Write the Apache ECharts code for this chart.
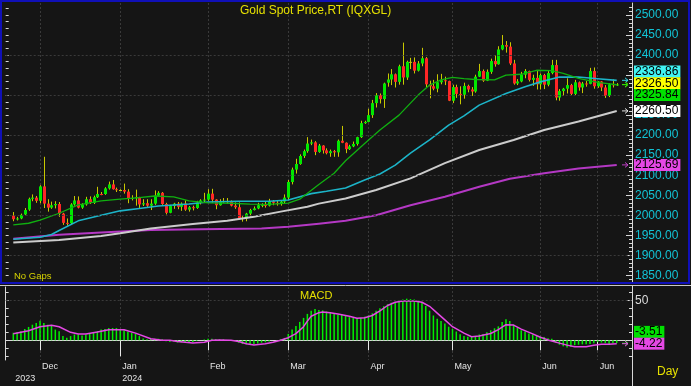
<!DOCTYPE html>
<html><head><meta charset="utf-8">
<script src="https://cdn.jsdelivr.net/npm/echarts@6/dist/echarts.min.js"></script>
<style>html,body{margin:0;padding:0;background:#151515}#c{width:691px;height:386px}</style>
</head><body><div id="c"></div>
<script>
// ---------------- DATA ----------------
const opens = [1999,1990,1992,2002,2014,2041,2044,2036,2072,2029,2019,2025,2028,2004,1981,1980,2027,2037,2019,2027,2040,2031,2045,2053,2053,2067,2077,2065,2063,2063,2059,2042,2043,2045,2027,2030,2024,2029,2049,2056,2028,2006,2023,2029,2021,2029,2014,2020,2018,2032,2037,2039,2054,2039,2025,2035,2035,2034,2024,2020,1993,1992,2004,2013,2017,2025,2026,2024,2035,2031,2029,2034,2044,2083,2114,2128,2148,2160,2179,2182,2158,2174,2162,2155,2160,2157,2186,2181,2165,2172,2178,2195,2230,2233,2250,2280,2300,2290,2331,2339,2352,2333,2372,2344,2383,2383,2361,2379,2392,2327,2322,2316,2332,2337,2335,2286,2320,2303,2301,2323,2314,2309,2346,2360,2336,2358,2385,2377,2414,2425,2421,2379,2329,2334,2351,2360,2338,2343,2327,2350,2326,2355,2375,2294,2310,2316,2325,2303,2332,2319,2329,2328,2360,2322,2334,2319,2298,2327,2326];
const highs = [2008,1996,2004,2018,2044,2052,2048,2075,2146,2040,2034,2035,2033,2006,1992,2030,2048,2047,2030,2046,2047,2049,2071,2058,2070,2084,2088,2069,2065,2079,2065,2050,2064,2046,2040,2040,2040,2062,2060,2058,2031,2026,2031,2033,2032,2037,2023,2024,2036,2040,2056,2065,2066,2040,2040,2043,2043,2037,2032,2032,1998,2006,2016,2022,2031,2030,2035,2041,2038,2038,2038,2052,2088,2119,2141,2152,2164,2195,2189,2185,2178,2175,2167,2164,2163,2189,2223,2182,2176,2184,2196,2236,2236,2266,2288,2305,2304,2331,2354,2365,2354,2376,2431,2386,2393,2394,2385,2418,2395,2336,2338,2352,2353,2346,2336,2326,2326,2322,2331,2326,2320,2351,2378,2364,2364,2391,2400,2422,2450,2435,2432,2388,2340,2358,2365,2361,2351,2362,2354,2353,2360,2388,2388,2315,2318,2342,2328,2338,2334,2333,2335,2368,2369,2335,2335,2325,2330,2339,2330];
const lows = [1985,1987,1990,2000,2011,2035,2031,2030,2018,2009,2016,2017,1996,1976,1974,1976,2024,2017,2016,2024,2028,2028,2043,2050,2051,2064,2064,2058,2061,2054,2030,2037,2024,2017,2023,2021,2013,2026,2046,2026,2002,2005,2016,2015,2011,2011,2009,2012,2016,2027,2031,2036,2031,2015,2024,2031,2028,2022,2016,1990,1984,1985,1996,2012,2015,2020,2019,2022,2025,2024,2024,2030,2039,2077,2104,2126,2143,2156,2175,2150,2156,2154,2152,2146,2146,2146,2180,2155,2163,2170,2174,2193,2228,2232,2243,2269,2279,2268,2321,2325,2319,2326,2326,2338,2365,2354,2359,2372,2320,2292,2312,2307,2327,2325,2285,2280,2293,2277,2291,2307,2298,2306,2345,2333,2335,2353,2371,2376,2412,2406,2375,2326,2325,2332,2342,2334,2323,2314,2314,2315,2322,2352,2287,2286,2298,2304,2300,2300,2311,2305,2321,2327,2316,2318,2310,2293,2295,2319,2323];
const closes = [1990,1992,2001,2013,2041,2044,2036,2072,2029,2019,2025,2028,2004,1981,1980,2027,2037,2019,2027,2040,2031,2045,2053,2052,2067,2077,2065,2063,2063,2059,2042,2043,2045,2027,2030,2024,2029,2049,2056,2028,2006,2023,2029,2021,2029,2014,2020,2018,2032,2037,2039,2054,2039,2025,2035,2035,2034,2024,2020,1993,1992,2004,2013,2017,2025,2026,2024,2035,2031,2029,2034,2044,2083,2114,2128,2148,2160,2179,2182,2158,2174,2162,2155,2160,2157,2186,2181,2165,2172,2178,2195,2230,2233,2250,2280,2300,2290,2329,2339,2352,2333,2372,2344,2383,2383,2361,2379,2392,2327,2322,2316,2332,2337,2335,2286,2320,2303,2301,2323,2314,2309,2346,2360,2336,2358,2385,2377,2414,2425,2421,2379,2329,2334,2351,2360,2338,2343,2327,2350,2326,2355,2375,2294,2310,2316,2325,2303,2332,2319,2329,2328,2360,2322,2334,2319,2298,2327,2326,2326.5];

// moving averages: [trading-day index, value]
const ma20 = [[0,1976],[4,1980],[7,1988],[12,2005],[17,2026],[23,2036],[28,2040],[33,2044],[37,2048],[42,2046],[46,2036],[51,2031],[57,2030],[62,2028],[67,2027],[72,2030],[75,2040],[80,2077],[84,2105],[87,2136],[92,2179],[96,2213],[101,2250],[106,2300],[109,2325],[112,2338],[115,2344],[118,2341],[121,2339],[126,2338],[129,2350],[133,2352],[137,2362],[141,2361],[144,2354],[148,2342],[153,2332],[158,2325.84]];
const ma50 = [[0,1940],[7,1945],[10,1952],[12,1962],[17,1986],[23,2000],[28,2011],[33,2017],[38,2023],[46,2028],[51,2033],[59,2035],[67,2035],[72,2038],[78,2054],[82,2060],[87,2068],[92,2088],[96,2103],[100,2125],[104,2155],[109,2188],[114,2225],[118,2248],[122,2275],[129,2304],[134,2321],[138,2333],[143,2345],[148,2345],[153,2341],[158,2336.86]];
const ma100 = [[0,1932],[12,1938],[23,1948],[28,1955],[36,1967],[47,1978],[56,1986],[63,1996],[70,2009],[77,2021],[80,2029],[87,2042],[95,2063],[104,2092],[113,2130],[122,2163],[131,2188],[139,2213],[148,2234],[158,2260.5]];
const ma200 = [[0,1941],[12,1951],[23,1957],[36,1963],[49,1965],[65,1967],[72,1971],[80,1979],[87,1986],[95,2000],[104,2025],[113,2046],[122,2071],[130,2091],[139,2105],[148,2117],[158,2125.69]];

const macdValues = [9.4,10.1,11.4,14.2,16.7,19.5,21.5,24.4,21.5,19.5,
18.3,13.4,11.4,5.3,3.3,5.3,7.3,7.3,6.1,7.3,
8.5,9.3,11.4,13.4,14.2,15.4,15.4,15.4,14.2,12.6,
10.6,9.3,8.1,5.3,2.4,1.2,2,2,2,1.2,
-1.2,-2,-1.5,-2.8,-2.5,-2.8,-2.5,-2,-1,0,
1,2,2,1.5,1.2,1.2,0.5,0,-0.5,-3,
-4.5,-5,-5,-4.9,-4,-3,-2.5,-1.5,0,0.5,
1.5,3,8,13.5,18,23,28,33,37,39,
38,37.5,36,34,33,32,32.5,31,29,28,
27.6,28,29.5,31,33.7,37,40,42.5,45,47,
48,50,51,52,51.5,51,49.5,48,43,37,
31,27,24,21,17,14.2,11,7.5,5.5,4.5,
4.5,5.5,7.3,8,10,12.5,15,17.4,23,26.4,
24,19.5,16,12.5,11,8.5,7.3,6,4.5,4,
2.5,2,-3,-5.5,-7.5,-9,-8,-6.1,-5.5,-5,
-4.9,-4.5,-3.7,-2,-2.8,-3.5,-4.5,-3.5,-3.51];
const signalLine = [[0,8.3],[4,12],[7,17],[10,18.7],[12,17],[15,10],[17,8],[19,8],[22,10.5],[25,13.3],[29,13.3],[32,9],[36,2],[39,0],[41,0],[43,-1.5],[45,-2.5],[47,-3.3],[50,-2.5],[52,0],[54,0.5],[57,0],[59,-1.5],[61,-4.2],[63,-5.8],[66,-4.2],[68,-2.5],[70,0],[72,3.3],[74,8.3],[76,17],[77,24],[78,30],[80,34.5],[81,35.4],[83,34.5],[85,32.8],[88,30],[90,27.6],[92,28.3],[94,31],[96,36.7],[98,43.5],[100,47.5],[102,49],[105,49],[107,47.5],[109,42.5],[111,34],[113,25.5],[115,17],[118,9],[120,4.5],[122,5.5],[125,8.5],[127,13.3],[129,19.5],[131,19],[133,14],[136,8],[138,3.8],[140,0.5],[143,-3.5],[145,-6],[147,-8],[150,-8],[152,-6.2],[154,-5],[156,-4.8],[158,-4.22]];

const monthDays = [7,28,51,72,93,115,138,153];
const monthNames = ['Dec','Jan','Feb','Mar','Apr','May','Jun','Jun'];
const yearDays = [0,28];
const yearNames = ['2023','2024'];
const priceTicks = [1850,1900,1950,2000,2050,2100,2150,2200,2250,2300,2350,2400,2450,2500];
const priceGridLevels = [1900,2000,2100,2200,2300,2400];
const macdTicks = [50];
const priceTagValues = [2336.86, 2326.50, 2325.84, 2260.50, 2125.69];
const macdTagValues = [-3.51, -4.22];

// ---------------- STYLE ----------------
const FONT = 'Arial, "Liberation Sans", sans-serif';
const UP = '#00e800', DOWN = '#ff2626', WICK = '#c8c800';
const GRIDC = '#3a3a3a';
const AXISC = '#d8d8d8';
const priceTagColors = ['#40f4f4','#ffff00','#00e000','#ffffff','#e448e4'];
const priceArrowColors = ['#30d8e8','#e8e800','#00d800','#e0e0e0','#c040c8'];
const macdTagColors = ['#00e000','#e448e4'];
const macdArrowColors = ['#00d800','#e050e0'];

const PAD_L = 2, PAD_R = 4;
const nDays = closes.length;
const cats = [];
for (let k = 0; k < PAD_L; k++) cats.push('L' + k);
const dt = new Date(Date.UTC(2023, 10, 22));
while (cats.length < PAD_L + nDays) {
  const wd = dt.getUTCDay();
  if (wd !== 0 && wd !== 6) cats.push(dt.toISOString().slice(0, 10));
  dt.setUTCDate(dt.getUTCDate() + 1);
}
for (let k = 0; k < PAD_R; k++) cats.push('R' + k);

const monthIdx = new Map(monthDays.map((d, k) => [d + PAD_L, monthNames[k]]));
const yearIdx = new Map(yearDays.map((d, k) => [d + PAD_L, yearNames[k]]));
const janIdx = yearDays[1] + PAD_L;

const candleData = closes.map((c, i) => [i + PAD_L, opens[i], c, lows[i], highs[i]]);
const toCat = arr => arr.map(p => [p[0] + PAD_L, p[1]]);
const macdBars = cats.map((_, k) => (k >= PAD_L && k < PAD_L + nDays) ? macdValues[k - PAD_L] : '-');

// ruler ticks (styling only)
const rightRuler = []; for (let v = 1840; v <= 2530; v += 10) rightRuler.push(v);
const leftRuler = []; for (let v = 2500 + 50 / 3; v >= 1835; v -= 50 / 3) leftRuler.push(v);
const macdRuler = []; for (let v = -20; v <= 60; v += 10) macdRuler.push(v);

function renderCandle(params, api) {
  const x = api.value(0);
  const o = api.value(1), c = api.value(2), l = api.value(3), h = api.value(4);
  const po = api.coord([x, o]), pc = api.coord([x, c]), pl = api.coord([x, l]), ph = api.coord([x, h]);
  const cx = Math.round(po[0]);
  const top = Math.min(po[1], pc[1]), bot = Math.max(po[1], pc[1]);
  const fill = c > o ? UP : (c < o ? DOWN : WICK);
  return { type: 'group', children: [
    { type: 'line', shape: { x1: cx + 0.5, y1: ph[1], x2: cx + 0.5, y2: pl[1] }, style: { stroke: WICK, lineWidth: 1 } },
    { type: 'rect', shape: { x: cx - 1, y: top, width: 3, height: Math.max(bot - top, 1) }, style: { fill: fill } }
  ]};
}

function tagRenderer(values, colors, arrowColors, anchor) {
  return function (params, api) {
    const cs = params.coordSys;
    const right = cs.x + cs.width;
    const H = 11.8;
    const items = values.map((v, k) => ({ v, k, y: api.coord([0, v])[1] }));
    items.sort((a, b) => a.y - b.y);
    let groups = items.map(it => ({ members: [it] }));
    const place = g => {
      const n = g.members.length;
      let c0;
      if (anchor === 'bottom') c0 = g.members[n - 1].y - (n - 1) * H;
      else c0 = g.members.reduce((s, m) => s + m.y, 0) / n - (n - 1) * H / 2;
      g.members.forEach((m, j) => m.cy = c0 + j * H);
    };
    groups.forEach(place);
    let merged = true;
    while (merged) {
      merged = false;
      for (let g = 0; g < groups.length - 1; g++) {
        const a = groups[g], b = groups[g + 1];
        if (a.members[a.members.length - 1].cy + H > b.members[0].cy) {
          a.members = a.members.concat(b.members);
          groups.splice(g + 1, 1);
          place(a);
          merged = true;
          break;
        }
      }
    }
    const children = [];
    items.forEach(it => {
      const ac = arrowColors[it.k];
      children.push({ type: 'polyline', shape: { points: [[right - 10, it.y], [right - 4, it.y]] }, style: { stroke: ac, lineWidth: 1, fill: null } });
      children.push({ type: 'polyline', shape: { points: [[right - 7, it.y - 2.5], [right - 4, it.y], [right - 7, it.y + 2.5]] }, style: { stroke: ac, lineWidth: 1, fill: null } });
    });
    items.forEach(it => {
      children.push({ type: 'text', x: right + 2, y: it.cy, style: {
        text: it.v.toFixed(2), fill: '#000', font: '12px ' + FONT, verticalAlign: 'middle', align: 'left',
        backgroundColor: colors[it.k], padding: [1, 2, 0, 1], lineHeight: 11 } });
    });
    return { type: 'group', children };
  };
}

const chart = echarts.init(document.getElementById('c'), null, { renderer: 'canvas' });
const splitFn = (idx) => monthIdx.has(idx);
const gridLineStyle = { color: GRIDC, type: [2, 2], width: 1 };

chart.setOption({
  animation: false,
  backgroundColor: '#151515',
  title: [
    { text: 'Gold Spot Price,RT (IQXGL)', left: 240, top: 4.5, padding: 0, textStyle: { color: '#e6e000', fontSize: 12, fontWeight: 'normal', fontFamily: FONT, lineHeight: 12 } },
    { text: 'No Gaps', left: 14, top: 271, padding: 0, textStyle: { color: '#d8d400', fontSize: 9.5, fontWeight: 'normal', fontFamily: FONT, lineHeight: 10 } },
    { text: 'MACD', left: 300, top: 290, padding: 0, textStyle: { color: '#e6e000', fontSize: 11, fontWeight: 'normal', fontFamily: FONT, lineHeight: 12 } },
    { text: 'Day', left: 657, top: 365.5, padding: 0, textStyle: { color: '#e6e000', fontSize: 12, fontWeight: 'normal', fontFamily: FONT, lineHeight: 12 } }
  ],
  graphic: [
    { type: 'rect', shape: { x: 1, y: 1, width: 688, height: 282 }, style: { stroke: '#1010b8', lineWidth: 2, fill: null }, z: 100 },
    { type: 'line', shape: { x1: 0, y1: 285.5, x2: 691, y2: 285.5 }, style: { stroke: '#c8c8c8', lineWidth: 1 }, z: 100 },
    { type: 'line', shape: { x1: 632.5, y1: 286, x2: 632.5, y2: 386 }, style: { stroke: AXISC, lineWidth: 1 }, z: 100 }
  ],
  grid: [
    { left: 5.66, right: 59, top: 3, height: 279 },
    { left: 5.66, right: 59, top: 287, height: 73 }
  ],
  xAxis: [
    { type: 'category', gridIndex: 0, data: cats, boundaryGap: false,
      axisLine: { show: false }, axisTick: { show: false }, axisLabel: { show: false },
      splitLine: { show: true, interval: splitFn, lineStyle: gridLineStyle } },
    { type: 'category', gridIndex: 1, data: cats, boundaryGap: false, position: 'bottom',
      axisLine: { show: true, lineStyle: { color: AXISC, width: 1 } },
      axisTick: { show: true, interval: splitFn, length: 10, lineStyle: { color: '#e8e8e8' } },
      axisLabel: { show: true, interval: splitFn, formatter: (v, i) => monthIdx.get(i) || '', align: 'left', padding: [0, 0, 0, 2],
        margin: 2, color: '#e4e4e4', fontSize: 9, fontFamily: FONT, lineHeight: 10 },
      splitLine: { show: true, interval: splitFn, lineStyle: gridLineStyle } },
    { type: 'category', gridIndex: 1, data: cats, boundaryGap: false, position: 'bottom', offset: 10.5,
      axisLine: { show: true, lineStyle: { color: AXISC, width: 1 } },
      axisTick: { show: true, interval: (i) => i === janIdx, length: 16, lineStyle: { color: '#e8e8e8' } },
      axisLabel: { show: true, interval: (i) => yearIdx.has(i), formatter: (v, i) => yearIdx.get(i) || '', align: 'left', padding: [0, 0, 0, 2],
        margin: 3, color: '#e4e4e4', fontSize: 9, fontFamily: FONT, lineHeight: 10 },
      splitLine: { show: false } }
  ],
  yAxis: [
    { type: 'value', gridIndex: 0, position: 'right', min: 1833.3, max: 2529.97,
      axisLine: { show: true, lineStyle: { color: AXISC } },
      axisTick: { show: true, inside: true, length: 6, customValues: priceTicks, lineStyle: { color: AXISC } },
      axisLabel: { show: true, customValues: priceTicks, formatter: v => v.toFixed(2), color: '#12c4d6', fontSize: 12, fontFamily: FONT, margin: 3 },
      splitLine: { show: false } },
    { type: 'value', gridIndex: 0, position: 'right', min: 1833.3, max: 2529.97,
      axisLine: { show: false }, axisLabel: { show: false }, splitLine: { show: false },
      axisTick: { show: true, inside: true, length: 3, customValues: rightRuler, lineStyle: { color: AXISC } } },
    { type: 'value', gridIndex: 0, position: 'left', min: 1833.3, max: 2529.97,
      axisLine: { show: false }, axisLabel: { show: false }, splitLine: { show: false },
      axisTick: { show: true, inside: true, length: 3, customValues: leftRuler, lineStyle: { color: AXISC } } },
    { type: 'value', gridIndex: 1, position: 'right', min: -24.6, max: 66.6,
      axisLine: { show: true, lineStyle: { color: AXISC } },
      axisTick: { show: true, inside: true, length: 6, customValues: macdTicks, lineStyle: { color: AXISC } },
      axisLabel: { show: true, customValues: macdTicks, formatter: v => String(v), color: '#dcdcdc', fontSize: 12, fontFamily: FONT, margin: 3 },
      splitLine: { show: false } },
    { type: 'value', gridIndex: 1, position: 'right', min: -24.6, max: 66.6,
      axisLine: { show: false }, axisLabel: { show: false }, splitLine: { show: false },
      axisTick: { show: true, inside: true, length: 3, customValues: macdRuler, lineStyle: { color: AXISC } } },
    { type: 'value', gridIndex: 1, position: 'left', min: -24.6, max: 66.6,
      axisLine: { show: true, lineStyle: { color: AXISC } }, axisLabel: { show: false }, splitLine: { show: false },
      axisTick: { show: true, inside: true, length: 3, customValues: macdRuler, lineStyle: { color: AXISC } } }
  ],
  series: [
    { type: 'line', name: 'MA200', xAxisIndex: 0, yAxisIndex: 0, data: toCat(ma200), symbol: 'none', z: 2,
      lineStyle: { color: '#b438c4', width: 2 },
      markLine: { silent: true, symbol: ['none', 'none'], label: { show: false }, lineStyle: gridLineStyle,
        data: priceGridLevels.map(v => ({ yAxis: v })) } },
    { type: 'custom', name: 'Gold', xAxisIndex: 0, yAxisIndex: 0, data: candleData, encode: { x: 0, y: [1, 2, 3, 4] },
      renderItem: renderCandle, z: 3 },
    { type: 'line', name: 'MA100', xAxisIndex: 0, yAxisIndex: 0, data: toCat(ma100), symbol: 'none', z: 4,
      lineStyle: { color: '#cccccc', width: 2 } },
    { type: 'line', name: 'MA50', xAxisIndex: 0, yAxisIndex: 0, data: toCat(ma50), symbol: 'none', z: 4,
      lineStyle: { color: '#1cb4c8', width: 1.6 } },
    { type: 'line', name: 'MA20', xAxisIndex: 0, yAxisIndex: 0, data: toCat(ma20), symbol: 'none', z: 4,
      lineStyle: { color: '#10b010', width: 1.3 } },
    { type: 'custom', name: 'priceTags', xAxisIndex: 0, yAxisIndex: 0, data: [[0]], clip: false, z: 10,
      renderItem: tagRenderer(priceTagValues, priceTagColors, priceArrowColors, 'mean') },
    { type: 'bar', name: 'MACD', xAxisIndex: 1, yAxisIndex: 3, data: macdBars, barWidth: 1.5, z: 3,
      itemStyle: { color: '#00f000' },
      markLine: { silent: true, symbol: ['none', 'none'], label: { show: false }, lineStyle: gridLineStyle,
        data: macdTicks.map(v => ({ yAxis: v })) } },
    { type: 'line', name: 'Signal', xAxisIndex: 1, yAxisIndex: 3, data: toCat(signalLine), symbol: 'none', z: 4,
      lineStyle: { color: '#e448e4', width: 1.5 } },
    { type: 'custom', name: 'macdTags', xAxisIndex: 1, yAxisIndex: 3, data: [[0]], clip: false, z: 10,
      renderItem: tagRenderer(macdTagValues, macdTagColors, macdArrowColors, 'bottom') }
  ]
});
</script></body></html>
